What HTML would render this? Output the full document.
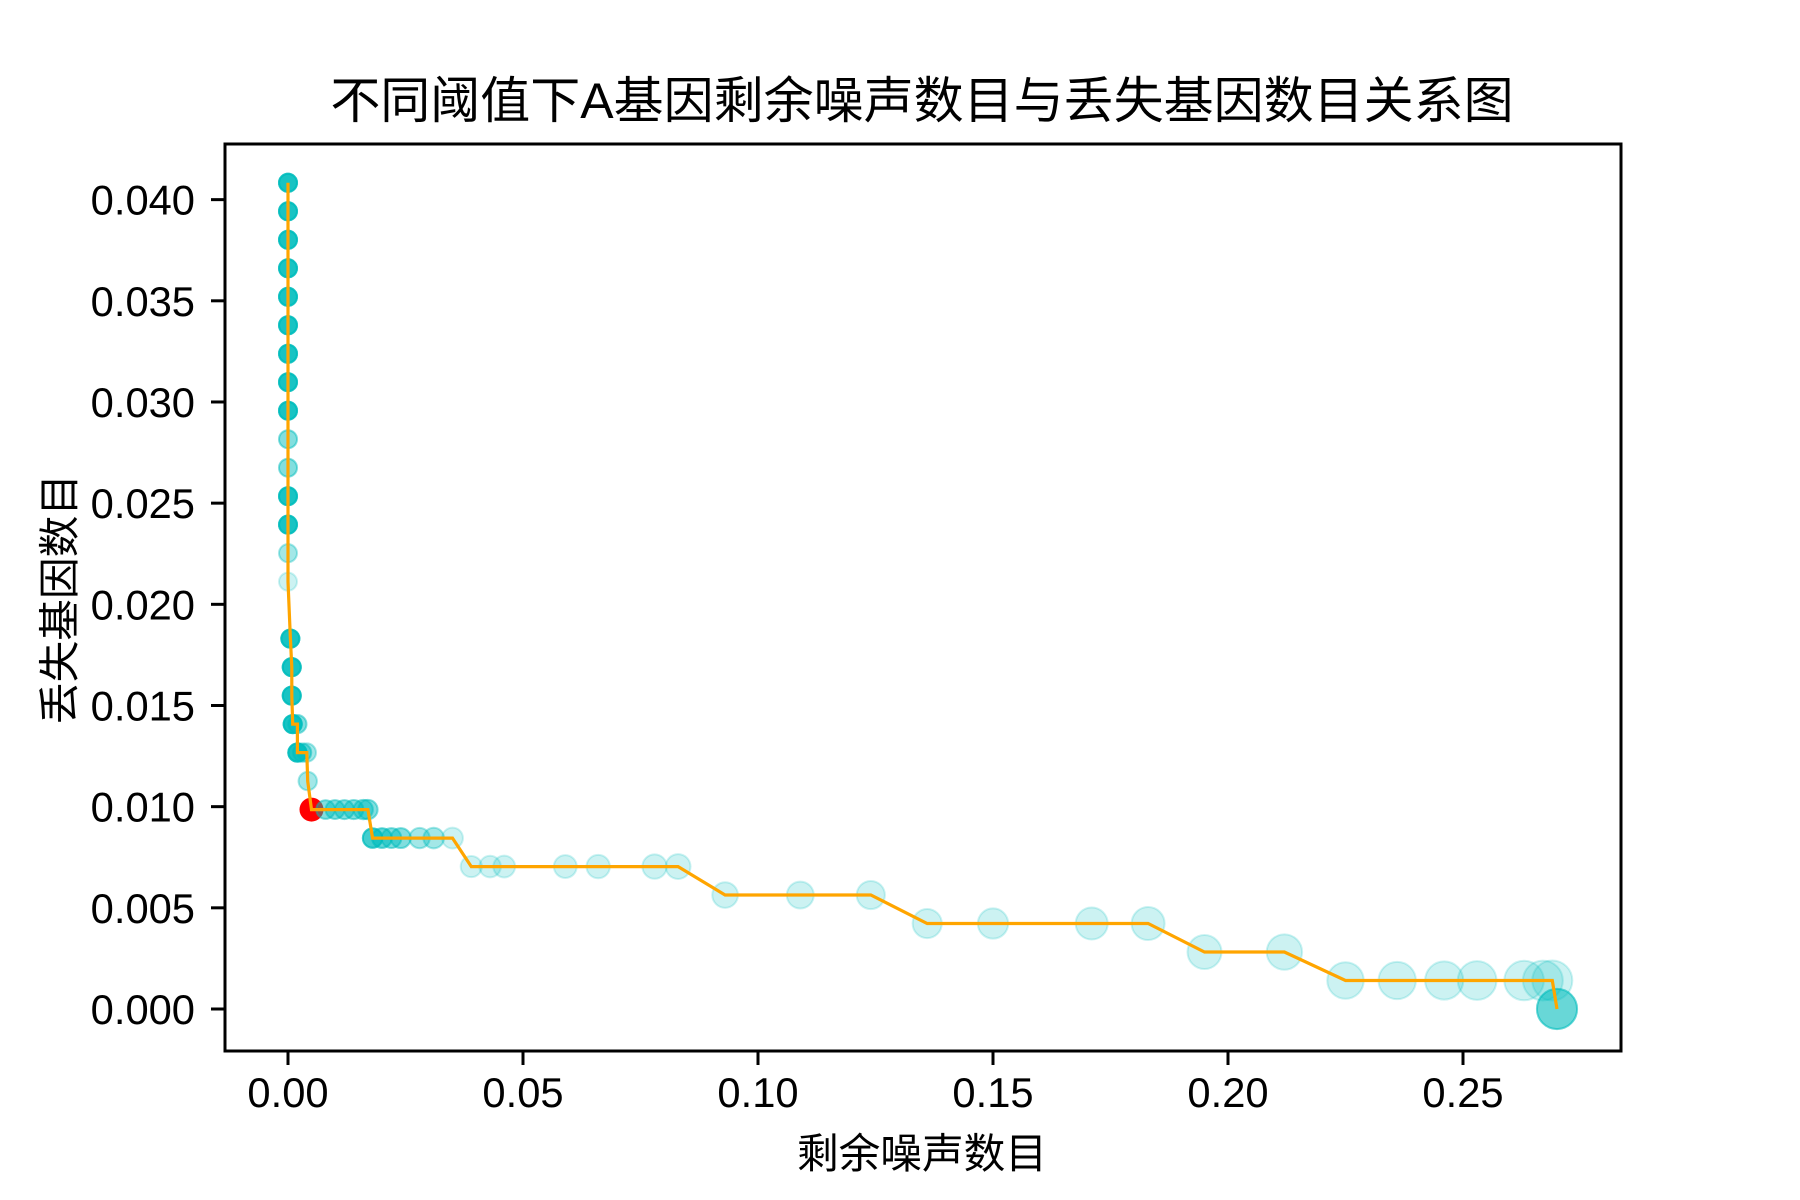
<!DOCTYPE html>
<html><head><meta charset="utf-8"><style>
body{margin:0;background:#fff}
svg{display:block}
text{font-family:"Liberation Sans","Noto Sans CJK SC",sans-serif;fill:#000}
</style></head><body>
<svg id="chart" width="1800" height="1200" viewBox="0 0 1800 1200" xmlns="http://www.w3.org/2000/svg">
<rect width="1800" height="1200" fill="#fff"/>
<text x="922" y="118" font-size="50" text-anchor="middle">不同阈值下A基因剩余噪声数目与丢失基因数目关系图</text>
<g id="plot"></g>
<g id="xticks"></g>
<g id="yticks"></g>
<rect x="225" y="144" width="1396" height="907" fill="none" stroke="#000" stroke-width="3"/>
<text x="922" y="1168" font-size="41.7" text-anchor="middle">剩余噪声数目</text>
<text transform="translate(74,599) rotate(-90)" font-size="41.7" text-anchor="middle">丢失基因数目</text>
</svg>
<script>
const xs = [0,0,0,0,0,0,0,0,0,0,0,0,0,0,0,0.0005,0.0008,0.0008,0.001,0.002,0.002,0.003,0.004,0.0042,0.005,0.008,0.010,0.012,0.014,0.016,0.017,0.018,0.020,0.022,0.024,0.028,0.031,0.035,0.039,0.043,0.046,0.059,0.066,0.078,0.083,0.093,0.109,0.124,0.136,0.150,0.171,0.183,0.195,0.212,0.225,0.236,0.246,0.253,0.263,0.267,0.269,0.270];
const ks = [29,28,27,26,25,24,23,22,21,20,19,18,17,16,15,13,12,11,10,10,9,9,9,8,7,7,7,7,7,7,7,6,6,6,6,6,6,6,5,5,5,5,5,5,5,4,4,4,3,3,3,3,2,2,1,1,1,1,1,1,1,0];
const repeats = [10,10,10,10,10,10,10,10,10,3,3,10,10,2,1,10,10,10,10,3,10,3,2,2,1,3,3,3,3,3,3,6,4,3,3,2,2,1,1,1,1,1,1,1,1,1,1,1,1,1,1,1,1,1,1,1,1,1,1,1,1,4];
const highlightIndex = 24;
const stepY = 0.001408;
const xTicks = [0,0.05,0.10,0.15,0.20,0.25];
const xTickLabels = ["0.00","0.05","0.10","0.15","0.20","0.25"];
const yTicks = [0,0.005,0.010,0.015,0.020,0.025,0.030,0.035,0.040];
const yTickLabels = ["0.000","0.005","0.010","0.015","0.020","0.025","0.030","0.035","0.040"];

const NS="http://www.w3.org/2000/svg";
const X = v => 288 + v*4700;
const Y = v => 1009 - v*20234;
function mk(tag, attrs, parent){const e=document.createElementNS(NS,tag);for(const k in attrs)e.setAttribute(k,attrs[k]);parent.appendChild(e);return e;}
const plot=document.getElementById('plot');
const xg=document.getElementById('xticks');
const yg=document.getElementById('yticks');

xTicks.forEach((t,i)=>{
  const l=mk('line',{x1:X(t),x2:X(t),y1:1051,y2:1065,stroke:'#000','stroke-width':3},xg);
  
  
  const tx=mk('text',{x:X(t),y:1107,'font-size':41.7,'text-anchor':'middle'},xg);
  tx.textContent=xTickLabels[i];
  
  
});
yTicks.forEach((t,i)=>{
  const l=mk('line',{x1:211,x2:225,y1:Y(t),y2:Y(t),stroke:'#000','stroke-width':3},yg);
  
  
  const tx=mk('text',{x:195,y:Y(t)+15,'font-size':41.7,'text-anchor':'end'},yg);
  tx.textContent=yTickLabels[i];
  
  
});

xs.forEach((x,i)=>{
  const y=ks[i]*stepY;
  const r = 9 + 41*x;
  if(i===highlightIndex){
    const c=mk('circle',{cx:X(x),cy:Y(y),r:12,fill:'#ff0000'},plot);
    
    
    return;
  }
  const g=mk('g',{},plot);
  
  
  for(let k=0;k<repeats[i];k++){
    mk('circle',{cx:X(x),cy:Y(y),r:r,fill:'#00bfbf','fill-opacity':0.2,stroke:'#00bfbf','stroke-opacity':0.2,'stroke-width':2},g);
  }
});
const d=xs.map((x,i)=>(i?'L':'M')+X(x).toFixed(1)+','+Y(ks[i]*stepY).toFixed(1)).join(' ');
const line=mk('path',{d:d,fill:'none',stroke:'#ffa500','stroke-width':3.2,'stroke-linejoin':'miter'},plot);


</script>
</body></html>
